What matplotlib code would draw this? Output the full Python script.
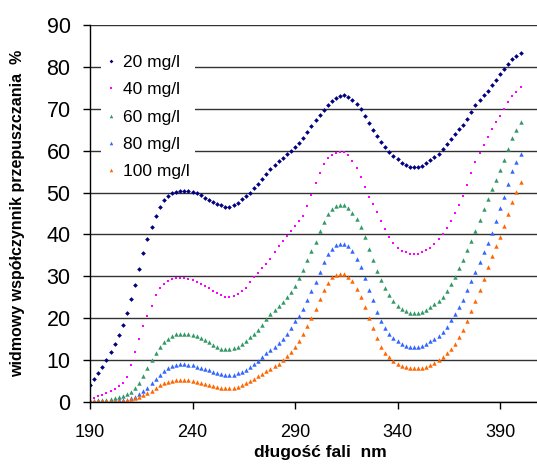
import numpy as np
import matplotlib.pyplot as plt

plt.rcParams['font.family'] = ['Liberation Sans', 'DejaVu Sans']

# wavelength grid (nm), every 2 nm
wavelength = np.arange(190, 401, 2)

t_20 = [4.0, 5.5, 6.8, 8.3, 10.0, 11.8, 13.8, 15.9, 18.3, 21.2,
        24.5, 28.0, 31.8, 35.6, 38.9, 41.8, 44.5, 46.6, 48.1, 49.1,
        49.8, 50.2, 50.4, 50.4, 50.3, 50.1, 49.8, 49.3, 48.8, 48.3,
        47.8, 47.3, 46.9, 46.6, 46.6, 46.9, 47.5, 48.4, 49.2, 50.0,
        51.0, 52.1, 53.3, 54.5, 55.6, 56.6, 57.5, 58.3, 59.1, 59.9,
        60.8, 61.9, 63.1, 64.5, 66.0, 67.3, 68.5, 69.7, 70.8, 71.8,
        72.6, 73.1, 73.2, 72.9, 72.2, 71.2, 69.9, 68.4, 66.7, 65.0,
        63.4, 62.0, 60.8, 59.7, 58.8, 57.9, 57.1, 56.6, 56.2, 56.1,
        56.1, 56.4, 57.0, 57.7, 58.4, 59.3, 60.3, 61.5, 62.8, 64.0,
        65.1, 66.2, 67.5, 69.2, 70.8, 72.1, 73.2, 74.3, 75.6, 77.0,
        78.3, 79.6, 80.8, 81.8, 82.6, 83.4]

t_40 = [0.8, 1.0, 1.3, 1.7, 2.1, 2.5, 3.0, 3.7, 4.6, 6.0,
        8.7, 12.0, 15.0, 18.0, 20.5, 22.9, 25.4, 27.1, 28.2, 28.9,
        29.3, 29.5, 29.6, 29.6, 29.4, 29.1, 28.7, 28.2, 27.7, 27.1,
        26.5, 25.9, 25.4, 25.0, 25.0, 25.3, 25.8, 26.4, 27.3, 28.5,
        29.7, 30.8, 31.9, 33.0, 34.2, 35.7, 37.1, 38.3, 39.5, 40.8,
        42.0, 43.2, 44.5, 46.7, 49.4, 52.2, 54.7, 56.8, 58.2, 59.0,
        59.5, 59.7, 59.6, 58.9, 57.6, 55.8, 53.7, 51.3, 49.0, 47.2,
        45.4, 43.2, 41.2, 39.4, 38.0, 36.8, 36.1, 35.7, 35.4, 35.3,
        35.4, 35.7, 36.2, 36.8, 37.7, 38.8, 40.0, 41.6, 43.3, 45.2,
        47.1, 49.1, 51.9, 54.7, 57.2, 59.4, 61.3, 63.3, 65.2, 66.8,
        68.4, 70.0, 71.7, 73.0, 74.1, 75.2]

t_60 = [0.3, 0.3, 0.4, 0.4, 0.5, 0.6, 0.8, 1.1, 1.4, 1.8,
        2.4, 3.2, 4.5, 6.1, 8.0, 9.9, 11.7, 13.1, 14.3, 15.1,
        15.7, 16.1, 16.3, 16.3, 16.2, 16.0, 15.7, 15.2, 14.7, 14.2,
        13.6, 13.1, 12.7, 12.5, 12.5, 12.8, 13.2, 13.7, 14.5, 15.4,
        16.2, 17.1, 18.4, 19.8, 20.9, 22.0, 22.9, 23.9, 25.0, 26.3,
        27.6, 29.5, 31.5, 33.8, 36.1, 38.2, 40.9, 43.0, 44.8, 46.1,
        46.8, 47.1, 47.0, 46.3, 45.2, 43.6, 41.7, 39.4, 36.6, 33.8,
        31.3, 29.1, 27.1, 25.4, 24.0, 22.9, 22.2, 21.6, 21.2, 21.1,
        21.1, 21.4, 22.0, 22.7, 23.3, 24.1, 25.1, 26.4, 28.1, 29.9,
        31.9, 33.9, 36.2, 38.5, 40.8, 43.5, 46.1, 48.4, 50.8, 53.1,
        55.3, 57.7, 60.4, 63.0, 65.0, 66.8]

t_80 = [0.3, 0.3, 0.3, 0.3, 0.3, 0.3, 0.3, 0.4, 0.4, 0.5,
        0.8, 1.2, 1.8, 2.5, 3.4, 4.4, 5.4, 6.4, 7.3, 8.0,
        8.5, 8.9, 9.0, 9.0, 8.9, 8.7, 8.4, 8.1, 7.8, 7.5,
        7.2, 6.9, 6.7, 6.5, 6.4, 6.5, 6.8, 7.2, 7.7, 8.4,
        9.0, 9.8, 10.7, 11.6, 12.4, 13.2, 14.0, 15.1, 16.3, 17.7,
        19.2, 20.6, 22.1, 24.2, 26.4, 28.7, 31.0, 33.4, 35.4, 36.6,
        37.4, 37.8, 37.7, 37.1, 36.0, 34.1, 32.1, 29.6, 26.8, 24.3,
        21.4, 19.2, 17.6, 16.2, 15.2, 14.4, 13.8, 13.4, 13.1, 13.0,
        13.1, 13.4, 13.9, 14.5, 15.1, 15.8, 16.7, 17.9, 19.5, 21.0,
        22.6, 24.3, 26.6, 28.9, 31.1, 33.4, 35.7, 38.0, 40.4, 43.3,
        46.2, 49.0, 52.1, 55.2, 57.3, 59.2]

t_100 = [0.2, 0.2, 0.2, 0.2, 0.2, 0.2, 0.2, 0.2, 0.3, 0.4,
         0.6, 0.8, 1.1, 1.5, 2.0, 2.6, 3.3, 3.9, 4.4, 4.8,
         5.0, 5.1, 5.2, 5.2, 5.1, 4.9, 4.7, 4.5, 4.2, 4.0,
         3.7, 3.5, 3.3, 3.2, 3.2, 3.3, 3.6, 4.0, 4.5, 5.0,
         5.5, 6.1, 6.7, 7.3, 7.9, 8.5, 9.1, 9.9, 10.9, 12.0,
         13.2, 14.6, 16.1, 18.0, 20.0, 22.2, 24.5, 26.6, 28.4, 29.7,
         30.4, 30.6, 30.5, 29.9, 28.8, 27.0, 25.0, 22.6, 20.1, 17.6,
         15.2, 13.2, 11.7, 10.6, 9.8, 9.1, 8.6, 8.3, 8.1, 8.0,
         8.0, 8.1, 8.4, 8.8, 9.3, 9.9, 10.7, 11.7, 12.6, 13.8,
         15.4, 17.1, 19.2, 21.6, 24.0, 26.6, 29.4, 32.2, 34.8, 37.1,
         39.3, 42.0, 44.8, 47.7, 50.2, 52.4]

labels = ['20 mg/l', '40 mg/l', '60 mg/l', '80 mg/l', '100 mg/l']
colors = ['#000080', '#FF00FF', '#339966', '#3366FF', '#FF6600']
markers = ['D', 's', '^', '^', '^']
msizes = [2.4, 2.0, 3.2, 3.2, 3.2]

fig = plt.figure(figsize=(5.37, 4.65), dpi=100)
ax = fig.add_axes([0.1676, 0.136, 0.8324, 0.81])

for ys, lab, c, m, ms in zip([t_20, t_40, t_60, t_80, t_100], labels, colors, markers, msizes):
    ax.plot(wavelength, ys, linestyle='none', marker=m, markersize=ms,
            color=c, markeredgewidth=0, label=lab)

ax.set_xlim(190, 408)
ax.set_ylim(0, 90)
ax.set_xticks([190, 240, 290, 340, 390])
ax.set_yticks(range(0, 91, 10))
ax.tick_params(axis='y', labelsize=15.5, direction='out', length=5, width=1, pad=9)
ax.tick_params(axis='x', labelsize=13, direction='out', length=5, width=1, pad=11)

ax.grid(axis='y', color='#333333', linewidth=1)
ax.set_axisbelow(True)
for s in ['top', 'right']:
    ax.spines[s].set_visible(False)
for s in ['left', 'bottom']:
    ax.spines[s].set_color('black')
    ax.spines[s].set_linewidth(1)

ax.set_xlabel('długość fali  nm', fontsize=12.5, fontweight='bold')
ax.xaxis.set_label_coords(0.515, -0.115)
ax.set_ylabel('widmowy współczynnik przepuszczania  %', fontsize=11.5, fontweight='bold')
ax.yaxis.set_label_coords(-0.145, 0.5)

leg = ax.legend(loc='upper left', bbox_to_anchor=(0.005, 0.958), fontsize=12.5,
                frameon=True, fancybox=False, edgecolor='none', facecolor='white',
                framealpha=1, handlelength=0.6, handletextpad=0.35, labelspacing=0.7,
                markerscale=0.8, borderpad=0.3)

fig.savefig('out.png', dpi=100)
